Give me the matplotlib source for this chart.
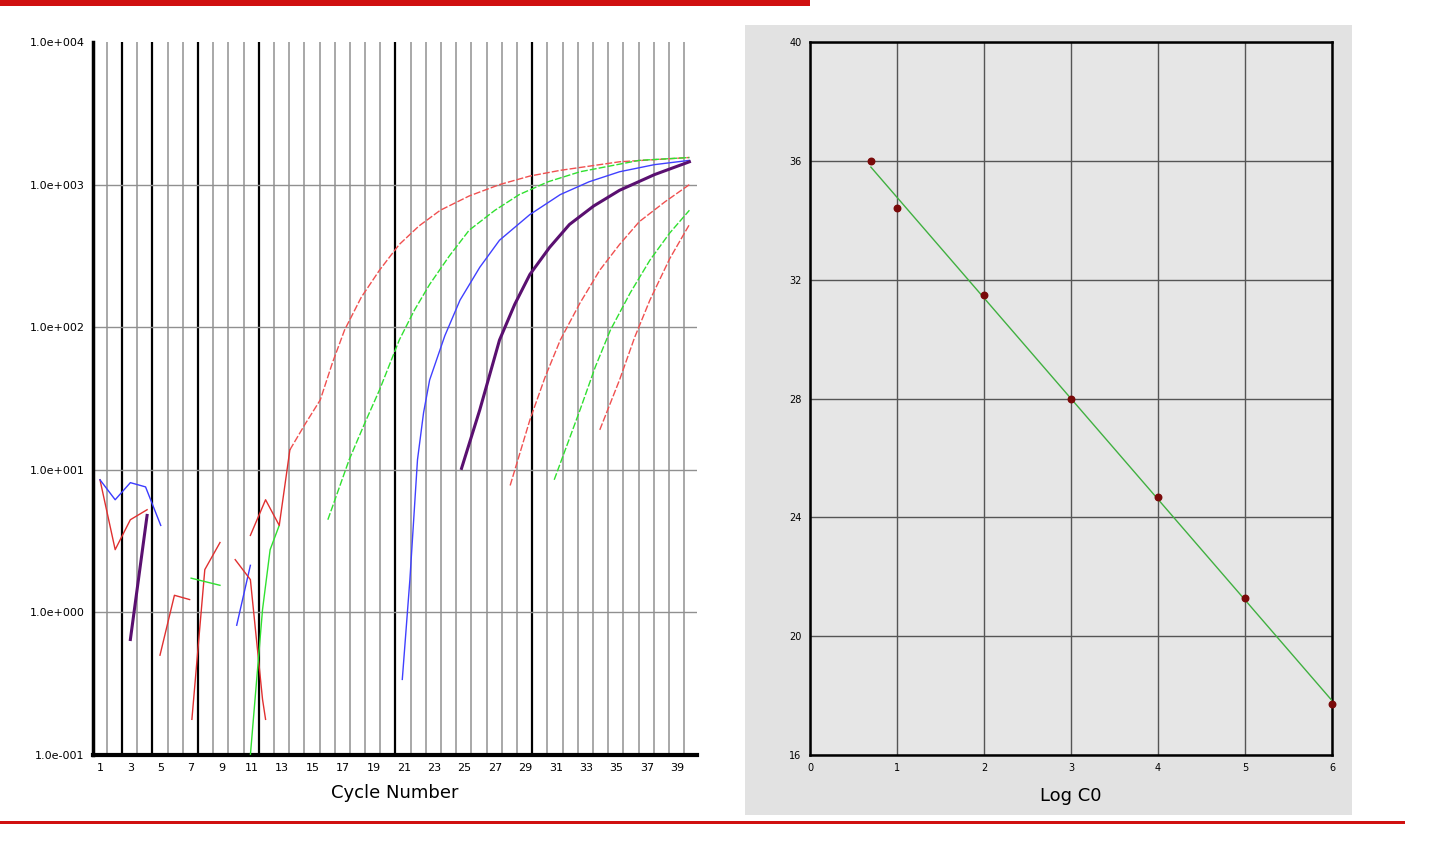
import numpy as np
import matplotlib
matplotlib.use("Agg")
import matplotlib.pyplot as plt
from matplotlib.patches import Rectangle

# ---- amplification curves (cycle, log10 fluorescence) ----
red1_c = [13.5, 14.5, 15.5, 16.3, 17.1, 18.2, 19.4, 20.7, 22.0, 23.4, 25.3, 27.3, 29.3, 31.3, 35.2, 39.8]
red1_v = [1.14, 1.32, 1.49, 1.75, 1.98, 2.21, 2.40, 2.58, 2.71, 2.82, 2.92, 3.00, 3.06, 3.10, 3.16, 3.19]
grn1_c = [16.0, 17.4, 18.4, 19.4, 20.7, 21.7, 22.7, 24.0, 25.3, 27.0, 28.6, 30.5, 32.6, 36.5, 39.8]
grn1_v = [0.65, 1.07, 1.32, 1.56, 1.91, 2.12, 2.30, 2.50, 2.68, 2.82, 2.93, 3.02, 3.09, 3.17, 3.19]
blu1_c = [20.9, 21.4, 21.9, 22.3, 22.7, 23.7, 24.7, 26.0, 27.3, 29.3, 31.3, 33.2, 35.2, 37.5, 39.8]
blu1_v = [-0.47, 0.23, 1.07, 1.40, 1.63, 1.94, 2.19, 2.42, 2.61, 2.79, 2.93, 3.02, 3.09, 3.14, 3.17]
pur1_c = [24.8, 26.0, 27.3, 28.3, 29.3, 30.6, 31.9, 33.5, 35.2, 37.5, 39.8]
pur1_v = [1.01, 1.42, 1.91, 2.16, 2.37, 2.56, 2.72, 2.85, 2.96, 3.07, 3.16]
red2_c = [28.0, 29.3, 30.3, 31.3, 32.6, 33.9, 35.2, 36.5, 38.2, 39.8]
red2_v = [0.89, 1.35, 1.65, 1.91, 2.17, 2.40, 2.58, 2.74, 2.88, 3.00]
grn2_c = [30.9, 32.6, 33.6, 34.6, 35.9, 37.2, 38.5, 39.8]
grn2_v = [0.93, 1.42, 1.72, 1.98, 2.24, 2.47, 2.66, 2.82]
red3_c = [33.9, 35.2, 36.2, 37.2, 38.5, 39.8]
red3_v = [1.28, 1.63, 1.93, 2.19, 2.48, 2.72]

# ---- early noise fragments ----
noise = [
    ("#e03030", [1, 2, 3, 4.1], [0.93, 0.44, 0.65, 0.72], 1.0),
    ("#3b3bff", [1, 2, 3, 4, 5], [0.93, 0.79, 0.91, 0.88, 0.61], 1.0),
    ("#5a1070", [3, 4.1], [-0.19, 0.68], 2.2),
    ("#e03030", [4.95, 5.9, 6.9], [-0.30, 0.12, 0.09], 1.0),
    ("#e03030", [7.05, 7.9, 8.9], [-0.75, 0.30, 0.49], 1.0),
    ("#30e030", [7.0, 8.9], [0.24, 0.19], 1.0),
    ("#3b3bff", [10.0, 10.9], [-0.09, 0.33], 1.0),
    ("#e03030", [9.9, 10.9, 11.7, 11.9], [0.37, 0.23, -0.61, -0.75], 1.0),
    ("#30e030", [10.9, 11.7, 12.2, 12.8], [-1.0, 0.02, 0.44, 0.61], 1.0),
    ("#e03030", [10.9, 11.9, 12.8, 13.5], [0.54, 0.79, 0.61, 1.14], 1.0),
]

# ---- standard curve ----
logc0 = [0.7, 1, 2, 3, 4, 5, 6]
ct = [36.0, 34.4, 31.5, 28.0, 24.7, 21.3, 17.7]
fit_x = [0.7, 6.0]

W, H = 1440, 859
fig = plt.figure(figsize=(W/100, H/100), dpi=100)
fig.patch.set_facecolor("white")

def rect(x0, y0, x1, y1):
    return [x0/W, 1 - y1/H, (x1-x0)/W, (y1-y0)/H]

# decorations
fig.add_artist(Rectangle((0, 1-6/H), 810/W, 6/H, transform=fig.transFigure, color="#d01010", lw=0, zorder=-5))
fig.add_artist(Rectangle((0, 1-824/H), 1405/W, 3/H, transform=fig.transFigure, color="#d01010", lw=0, zorder=-5))
fig.add_artist(Rectangle((745/W, 1-815/H), 607/W, 790/H, transform=fig.transFigure, color="#e2e2e2", lw=0, zorder=-5))

# ---- left chart ----
ax = fig.add_axes(rect(93, 42, 697, 755))
ax.set_yscale("log")
ax.set_xlim(0.54, 40.3)
ax.set_ylim(0.1, 10000)
black = {2, 4, 7, 11, 20, 29}
for k in range(1, 40):
    if k in black:
        ax.axvline(k + 0.45, color="black", lw=1.6, zorder=1)
    else:
        ax.axvline(k + 0.45, color="#a8a8a8", lw=1.4, zorder=1)
for v in [1, 10, 100, 1000]:
    ax.axhline(v, color="#909090", lw=1.0, zorder=1)

dash = (0, (5, 1.5))
for c, v, col, lw, ls in [
    (red1_c, red1_v, "#f05050", 1.0, dash),
    (grn1_c, grn1_v, "#30e030", 1.0, dash),
    (blu1_c, blu1_v, "#4040ff", 1.0, "-"),
    (pur1_c, pur1_v, "#5a1070", 2.2, "-"),
    (red2_c, red2_v, "#f05050", 1.0, dash),
    (grn2_c, grn2_v, "#30e030", 1.0, dash),
    (red3_c, red3_v, "#f05050", 1.0, dash),
]:
    ax.plot(c, 10**np.array(v), color=col, lw=lw, ls=ls, zorder=3)
for col, c, v, lw in noise:
    ax.plot(c, 10**np.array(v), color=col, lw=lw, zorder=3)

ax.set_yticks([0.1, 1, 10, 100, 1000, 10000])
ax.set_yticklabels(["1.0e-001", "1.0e+000", "1.0e+001", "1.0e+002", "1.0e+003", "1.0e+004"])
ax.yaxis.set_minor_locator(matplotlib.ticker.NullLocator())
ax.set_xticks(list(range(1, 40, 2)))
ax.set_xticklabels([str(k) for k in range(1, 40, 2)])
ax.tick_params(labelsize=8, length=0, pad=6)
for s in ["top", "right"]:
    ax.spines[s].set_visible(False)
ax.spines["left"].set_linewidth(2.5)
ax.spines["bottom"].set_linewidth(3)
ax.set_xlabel("Cycle Number", fontsize=13, labelpad=8)

# ---- right chart ----
ax2 = fig.add_axes(rect(810, 42, 1332, 755))
ax2.set_facecolor("#e6e6e6")
ax2.set_xlim(0, 6)
ax2.set_ylim(16, 40)
ax2.set_xticks(range(0, 7))
ax2.set_yticks(range(16, 41, 4))
ax2.grid(True, color="#555555", lw=1.0)
ax2.set_axisbelow(True)
for s in ax2.spines.values():
    s.set_linewidth(1.8)
coef = np.polyfit(logc0, ct, 1)
ax2.plot(fit_x, np.polyval(coef, fit_x), color="#40b040", lw=1.0, zorder=3)
ax2.scatter(logc0, ct, s=22, color="#7a0a0a", zorder=4, clip_on=False)
ax2.tick_params(labelsize=7, length=0, pad=6)
ax2.set_xlabel("Log C0", fontsize=13, labelpad=10)

fig.savefig("out.png", dpi=100)
